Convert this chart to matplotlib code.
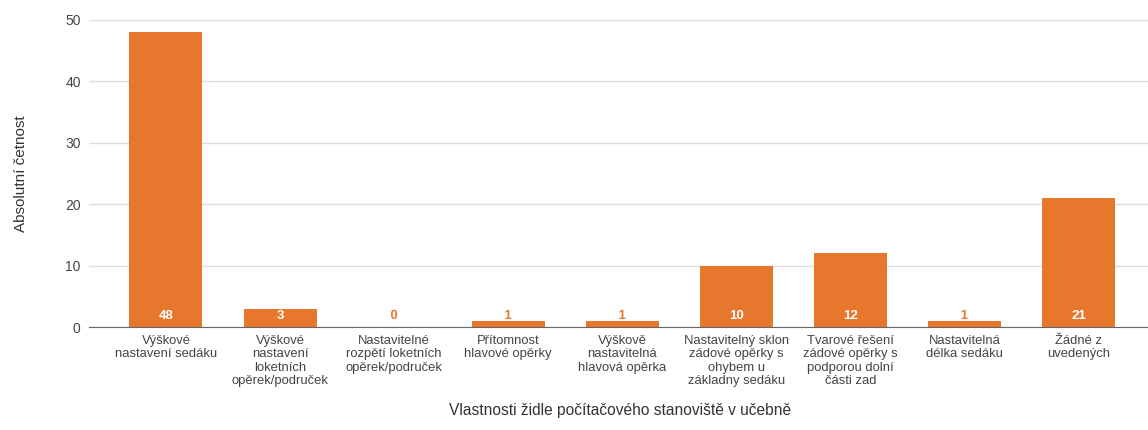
import matplotlib.pyplot as plt
import matplotlib.patheffects as pe

categories = [
    "Výškové\nnastavení sedáku",
    "Výškové\nnastavení\nloketních\nopěrek/područek",
    "Nastavitelné\nrozpětí loketních\nopěrek/područek",
    "Přítomnost\nhlavové opěrky",
    "Výškově\nnastavitelná\nhlavová opěrka",
    "Nastavitelný sklon\nzádové opěrky s\nohybem u\nzákladny sedáku",
    "Tvarové řešení\nzádové opěrky s\npodporou dolní\nčásti zad",
    "Nastavitelná\ndélka sedáku",
    "Žádné z\nuvedených",
]
counts = [48, 3, 0, 1, 1, 10, 12, 1, 21]

orange = "#E8772E"
plt.rcParams["font.family"] = ["Liberation Sans", "DejaVu Sans"]

fig = plt.figure(figsize=(11.48, 4.30), dpi=100)
ax = fig.add_axes([0.0775, 0.2395, 0.9225, 0.714])

x = list(range(len(categories)))
ax.bar(x, counts, width=0.64, color=orange, zorder=3)

for xi, v in zip(x, counts):
    if v >= 3:
        ax.text(xi, 1.8, str(v), ha="center", va="center", color="white",
                fontsize=9.5, fontweight="bold", zorder=4)
    else:
        ax.text(xi, 1.8, str(v), ha="center", va="center", color=orange,
                fontsize=9.5, fontweight="bold", zorder=4,
                path_effects=[pe.withStroke(linewidth=2.5, foreground="white")])

ax.set_xlim(-0.675, 8.61)
ax.set_ylim(0, 50)
ax.set_yticks([0, 10, 20, 30, 40, 50])
ax.set_xticks(x)
ax.set_xticklabels(categories, fontsize=9.4, color="#333333", linespacing=1.12)
ax.tick_params(axis="both", length=0, colors="#444444")
ax.tick_params(axis="y", labelsize=10, pad=6)
ax.tick_params(axis="x", pad=6)
ax.grid(axis="y", color="#dddddd", linewidth=1, zorder=0)
for s in ["top", "right", "left"]:
    ax.spines[s].set_visible(False)
ax.spines["bottom"].set_color("#666666")
ax.spines["bottom"].set_zorder(5)

ax.set_ylabel("Absolutní četnost", fontsize=11, color="#333333", labelpad=27)
fig.text(0.54, 0.046, "Vlastnosti židle počítačového stanoviště v učebně",
         ha="center", va="center", fontsize=11.2, color="#333333")

fig.savefig("out.png", dpi=100)
